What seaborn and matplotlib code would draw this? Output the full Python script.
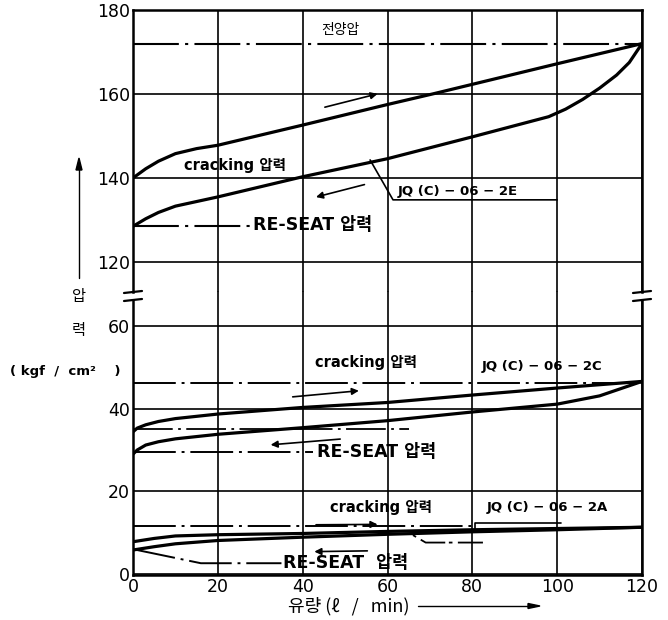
"""
Cracking / RE-SEAT pressure vs. flow for JQ(C)-06 relief valves (broken y axis).
"""

import matplotlib
matplotlib.use("Agg")
import matplotlib.pyplot as plt
import seaborn as sns
from matplotlib.lines import Line2D

# ---- data ----
flow_2e_up = [0, 3, 6, 10, 15, 20, 40, 60, 71, 100, 120]
crack_2e = [140, 142.2, 144.0, 145.8, 147.0, 147.8, 152.6, 157.5, 160.1, 167.2, 172]
flow_2e_dn = [0, 3, 6, 10, 20, 40, 60, 80, 98, 102, 106, 110, 114, 117, 120]
reseat_2e = [128.5, 130.3, 131.8, 133.3, 135.5, 140.3, 144.6, 149.8, 154.6, 156.4, 158.7,
             161.4, 164.5, 167.5, 172]

flow_2c = [0, 1, 3, 6, 10, 20, 40, 60, 80, 100, 110, 120]
crack_2c = [34.4, 35.3, 36.1, 36.9, 37.6, 38.7, 40.3, 41.5, 43.3, 45.0, 45.8, 46.6]
reseat_2c = [29.0, 30.0, 31.2, 32.0, 32.7, 33.8, 35.4, 37.1, 39.2, 41.1, 43.1, 46.6]

flow_2a = [0, 5, 10, 20, 40, 60, 80, 100, 120]
crack_2a = [7.8, 8.6, 9.2, 9.5, 9.8, 10.3, 10.7, 11.0, 11.3]
reseat_2a = [5.8, 6.6, 7.3, 8.1, 8.9, 9.6, 10.2, 10.7, 11.3]

full_press = 172          # 전양압
reseat_set_2e = 128.5
crack_set_2c = 46.1
mid_set_2c = 35.2
reseat_set_2c = 29.4
crack_set_2a = 11.5
reseat_2a_x = [0, 16, 35]
reseat_2a_y = [6.0, 2.6, 2.6]

x_ticks = [0, 20, 40, 60, 80, 100, 120]
upper_ticks = [120, 140, 160, 180]
lower_ticks = [0, 20, 40, 60]

sns.set_style("white")
KR = ["Noto Sans CJK KR", "DejaVu Sans"]
LAT = ["DejaVu Sans", "Noto Sans CJK KR"]
NUM = ["Liberation Sans Narrow", "DejaVu Sans"]
plt.rcParams["font.family"] = KR
plt.rcParams["text.color"] = "black"
plt.rcParams["xtick.color"] = "black"
plt.rcParams["ytick.color"] = "black"
plt.rcParams["axes.labelcolor"] = "black"

fig = plt.figure(figsize=(6.68, 6.2), dpi=100)
W, H = 668, 620


def fx(px):
    return px / W


def fy(py):
    return 1 - py / H


ax_up = fig.add_axes([fx(133), fy(292), fx(642) - fx(133), fy(10) - fy(292)])
ax_lo = fig.add_axes([fx(133), fy(575), fx(642) - fx(133), fy(300) - fy(575)])

ax_up.set_ylim(112.86, 180)
ax_lo.set_ylim(-0.25, 66.3)

dashdot = (0, (22, 3, 1.5, 3))
curve_kw = dict(color="black", linewidth=2.3, sort=False, estimator=None)

for ax in (ax_up, ax_lo):
    ax.set_xlim(0, 120)
    ax.set_xticks(x_ticks)
    ax.grid(True, color="black", linewidth=1.2)
    ax.tick_params(length=0, labelsize=12, pad=2, colors="black")
    for s in ("left", "right", "top", "bottom"):
        ax.spines[s].set_color("black")
        ax.spines[s].set_linewidth(1.8)

ax_up.set_yticks(upper_ticks)
ax_up.set_xticklabels([])
ax_up.spines["bottom"].set_visible(False)
ax_lo.set_yticks(lower_ticks)
ax_lo.spines["top"].set_visible(False)
for lab in ax_up.get_yticklabels() + ax_lo.get_yticklabels() + ax_lo.get_xticklabels():
    lab.set_family(NUM)
    lab.set_fontsize(12.5)

# vertical grid through the break gap
for xv in x_ticks[1:-1]:
    ax_up.axvline(xv, ymin=-8 / 282, ymax=0, color="black", linewidth=1.2, clip_on=False)

label_kw = dict(fontweight="bold", va="center", family=LAT)
jq_kw = dict(fontsize=9.5, fontweight="bold", va="center", family=LAT)

# ---- JQ(C)-06-2E ----
ax_up.axhline(full_press, color="black", linewidth=1.5, linestyle=dashdot)
sns.lineplot(x=flow_2e_up, y=crack_2e, ax=ax_up, **curve_kw)
sns.lineplot(x=flow_2e_dn, y=reseat_2e, ax=ax_up, **curve_kw)
ax_up.plot([0, 28], [reseat_set_2e, reseat_set_2e], color="black", linewidth=1.5, linestyle=dashdot)
ax_up.text(49, 175.2, "전양압", fontsize=10, ha="center", va="center")
ax_up.text(12, 142.9, "cracking 압력", fontsize=10.5, **label_kw)
ax_up.text(28.3, 128.7, "RE-SEAT 압력", fontsize=12.5, **label_kw)
ax_up.plot([55.9, 61.3, 100], [144.3, 134.8, 134.8], color="black", linewidth=1.2)
ax_up.text(62.5, 136.9, "JQ (C) − 06 − 2E", **jq_kw)

arrow_kw = dict(arrowstyle="-|>", color="black", lw=1.2, mutation_scale=10)
ax_up.annotate("", xy=(58.3, 160.2), xytext=(44.6, 156.7), arrowprops=arrow_kw)
ax_up.annotate("", xy=(42.5, 135.3), xytext=(55.2, 138.6), arrowprops=arrow_kw)

# ---- JQ(C)-06-2C ----
ax_lo.axhline(crack_set_2c, color="black", linewidth=1.4, linestyle=dashdot)
ax_lo.plot([0, 65], [mid_set_2c, mid_set_2c], color="black", linewidth=1.3, linestyle=dashdot)
ax_lo.plot([0, 42.5], [reseat_set_2c, reseat_set_2c], color="black", linewidth=1.4, linestyle=dashdot)
sns.lineplot(x=flow_2c, y=crack_2c, ax=ax_lo, **curve_kw)
sns.lineplot(x=flow_2c, y=reseat_2c, ax=ax_lo, **curve_kw)
ax_lo.text(43, 51.2, "cracking 압력", fontsize=10.5, **label_kw)
ax_lo.text(82.3, 50.2, "JQ (C) − 06 − 2C", **jq_kw)
ax_lo.text(43.4, 29.4, "RE-SEAT 압력", fontsize=12.5, **label_kw)
ax_lo.annotate("", xy=(53.9, 44.4), xytext=(37, 42.8), arrowprops=arrow_kw)
ax_lo.annotate("", xy=(31.8, 31.2), xytext=(49.5, 32.7), arrowprops=arrow_kw)

# ---- JQ(C)-06-2A ----
ax_lo.plot([0, 80], [crack_set_2a, crack_set_2a], color="black", linewidth=1.4, linestyle=dashdot)
ax_lo.plot(reseat_2a_x, reseat_2a_y, color="black", linewidth=1.4, linestyle=dashdot)
ax_lo.plot([66, 69, 82.5], [9.4, 7.6, 7.6], color="black", linewidth=1.3, linestyle=(0, (2, 3, 14, 2)))
sns.lineplot(x=flow_2a, y=crack_2a, ax=ax_lo, **curve_kw)
sns.lineplot(x=flow_2a, y=reseat_2a, ax=ax_lo, **curve_kw)
ax_lo.plot([80.7, 80.7, 101], [10.6, 12.4, 12.4], color="black", linewidth=1.2)
ax_lo.text(46.5, 16.1, "cracking 압력", fontsize=10.5, **label_kw)
ax_lo.text(83.5, 16.1, "JQ (C) − 06 − 2A", **jq_kw)
ax_lo.text(35.4, 2.6, "RE-SEAT  압력", fontsize=12.5, **label_kw)
ax_lo.annotate("", xy=(58.3, 12.0), xytext=(42.5, 11.9), arrowprops=arrow_kw)
ax_lo.annotate("", xy=(42.1, 5.4), xytext=(55.9, 5.6), arrowprops=arrow_kw)

# ---- break marks on both spines ----
for xc in (133, 642):
    for yc in (292, 300):
        fig.add_artist(Line2D([fx(xc - 9), fx(xc + 9)], [fy(yc + 1), fy(yc - 1)],
                              color="black", linewidth=1.6))

# ---- axis titles ----
fig.add_artist(Line2D([fx(79), fx(79)], [fy(278), fy(168)], color="black", linewidth=1.0))
fig.patches.append(plt.Polygon([[fx(76), fy(170)], [fx(82), fy(170)], [fx(79), fy(158)]],
                               closed=True, color="black", transform=fig.transFigure))
fig.text(fx(79), fy(297), "압", fontsize=11, ha="center", va="center")
fig.text(fx(79), fy(331), "력", fontsize=11, ha="center", va="center")
fig.text(fx(10), fy(372), "( kgf  /  cm²    )", fontsize=9.5, fontweight="bold", ha="left",
         va="center", family=["DejaVu Sans"])
fig.text(fx(288), fy(606), "유량 (ℓ   /   min)", fontsize=13, ha="left", va="center", family=KR)
fig.add_artist(Line2D([fx(418), fx(530)], [fy(606), fy(606)], color="black", linewidth=1.0))
fig.patches.append(plt.Polygon([[fx(528), fy(603.5)], [fx(528), fy(608.5)], [fx(540), fy(606)]],
                               closed=True, color="black", transform=fig.transFigure))

fig.savefig("out.png", dpi=100)
